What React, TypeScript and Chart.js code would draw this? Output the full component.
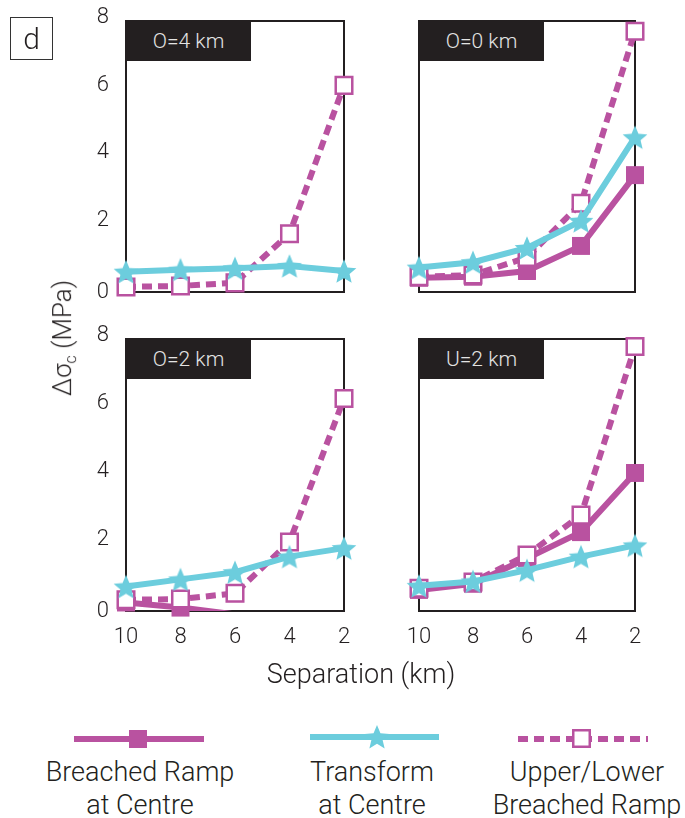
import React, { useEffect, useRef } from "react";
import { Chart, registerables } from "chart.js";

Chart.register(...registerables);

// ---------- data ----------
const separations = ["10", "8", "6", "4", "2"];
const yTickValues = [0, 2, 4, 6, 8];
const panelTitles = ["O=4 km", "O=0 km", "O=2 km", "U=2 km"];

const transformO4 = [0.6, 0.66, 0.7, 0.77, 0.62];
const upperO4 = [0.15, 0.18, 0.27, 1.72, 6.1];
const breachedO4: (number | null)[] = [null, null, null, null, null];

const transformO0 = [0.72, 0.88, 1.3, 2.1, 4.57];
const upperO0 = [0.45, 0.5, 1.02, 2.62, 7.7];
const breachedO0 = [0.42, 0.45, 0.62, 1.36, 3.45];

const transformO2 = [0.72, 0.93, 1.14, 1.6, 1.85];
const upperO2 = [0.33, 0.35, 0.52, 2.03, 6.25];
const breachedO2: (number | null)[] = [0.25, 0.1, -0.1, null, null];

const transformU2 = [0.74, 0.87, 1.2, 1.6, 1.93];
const upperU2 = [0.67, 0.85, 1.65, 2.82, 7.78];
const breachedU2 = [0.62, 0.8, 1.55, 2.32, 4.06];

// ---------- styles ----------
const MAG = "rgb(185, 82, 160)";
const CYAN = "rgb(108, 205, 221)";
const INK = "#231f20";
const FONT = "Roboto, 'Liberation Sans', sans-serif";

function makeStar(color: string, R: number) {
  const c = document.createElement("canvas");
  const s = Math.ceil(R * 2 + 2);
  c.width = s;
  c.height = s;
  const ctx = c.getContext("2d")!;
  const cx = s / 2;
  const cy = s / 2 + R * 0.1;
  const r = R * 0.45;
  ctx.beginPath();
  for (let i = 0; i < 10; i++) {
    const ang = -Math.PI / 2 + (i * Math.PI) / 5;
    const rad = i % 2 === 0 ? R : r;
    const x = cx + rad * Math.cos(ang);
    const y = cy + rad * Math.sin(ang);
    if (i === 0) ctx.moveTo(x, y);
    else ctx.lineTo(x, y);
  }
  ctx.closePath();
  ctx.fillStyle = color;
  ctx.fill();
  return c;
}

const framePlugin = {
  id: "frame",
  beforeDatasetsDraw(chart: any) {
    const { ctx, chartArea } = chart;
    const { left, top, right, bottom } = chartArea;
    ctx.save();
    ctx.strokeStyle = INK;
    ctx.lineWidth = 2;
    ctx.strokeRect(left, top, right - left, bottom - top);
    ctx.restore();
  },
};

type PanelDef = {
  title: string;
  transform: (number | null)[];
  upper: (number | null)[];
  breached: (number | null)[];
  left: boolean;
  bottom: boolean;
  canvas: { x: number; y: number; w: number; h: number };
  area: { l: number; t: number; r: number; b: number };
};

const panels: PanelDef[] = [
  {
    title: panelTitles[0], transform: transformO4, upper: upperO4, breached: breachedO4,
    left: true, bottom: false,
    canvas: { x: 30, y: -20, w: 335, h: 360 }, area: { l: 126, t: 21, r: 344, b: 292 },
  },
  {
    title: panelTitles[1], transform: transformO0, upper: upperO0, breached: breachedO0,
    left: false, bottom: false,
    canvas: { x: 375, y: -20, w: 305, h: 360 }, area: { l: 419, t: 21, r: 635, b: 292 },
  },
  {
    title: panelTitles[2], transform: transformO2, upper: upperO2, breached: breachedO2,
    left: true, bottom: true,
    canvas: { x: 30, y: 296, w: 335, h: 364 }, area: { l: 126, t: 339, r: 344, b: 611 },
  },
  {
    title: panelTitles[3], transform: transformU2, upper: upperU2, breached: breachedU2,
    left: false, bottom: true,
    canvas: { x: 375, y: 296, w: 305, h: 364 }, area: { l: 419, t: 339, r: 635, b: 611 },
  },
];

function buildConfig(p: PanelDef, star: HTMLCanvasElement): any {
  const c = p.canvas;
  const a = p.area;
  const yAxisW = p.left ? a.l - c.x : 0;
  const xAxisH = p.bottom ? c.y + c.h - a.b : 0;
  const tickFont = { family: FONT, size: 22, weight: "300" as any };

  const datasets: any[] = [
    {
      label: "Transform at Centre",
      data: p.transform,
      borderColor: CYAN,
      borderWidth: 6,
      pointStyle: star,
      pointRadius: 12,
      pointBorderWidth: 0,
      tension: 0,
      clip: false,
    },
    {
      label: "Upper/Lower Breached Ramp",
      data: p.upper,
      borderColor: MAG,
      borderWidth: 6,
      borderDash: [10, 6],
      pointStyle: "rect",
      pointRadius: 11.7,
      pointBorderWidth: 2.5,
      pointBorderColor: MAG,
      pointBackgroundColor: "#ffffff",
      tension: 0,
      clip: false,
    },
    {
      label: "Breached Ramp at Centre (marks)",
      data: p.breached.map((v) => (v === null || v < 0 ? null : v)),
      showLine: false,
      pointStyle: "rect",
      pointRadius: 12.7,
      pointBorderWidth: 0,
      pointBackgroundColor: MAG,
      clip: false,
    },
    {
      label: "Breached Ramp at Centre",
      data: p.breached,
      borderColor: MAG,
      borderWidth: 6,
      pointRadius: 0,
      tension: 0,
      clip: { left: 30, top: 30, right: 30, bottom: 0 },
    },
  ];

  return {
    type: "line",
    data: { labels: separations, datasets },
    plugins: [framePlugin],
    options: {
      animation: false,
      responsive: false,
      maintainAspectRatio: false,
      devicePixelRatio: 1,
      events: [],
      layout: {
        autoPadding: false,
        padding: {
          left: p.left ? 0 : a.l - c.x,
          top: a.t - c.y,
          right: c.x + c.w - a.r,
          bottom: p.bottom ? 0 : c.y + c.h - a.b,
        },
      },
      plugins: {
        legend: { display: false },
        tooltip: { enabled: false },
        title: { display: false },
      },
      scales: {
        x: {
          type: "category",
          display: p.bottom,
          offset: false,
          grid: { display: false, drawTicks: false },
          border: { display: false },
          ticks: {
            font: tickFont,
            color: INK,
            padding: 13,
            maxRotation: 0,
            autoSkip: false,
          },
          afterFit: (s: any) => {
            s.height = xAxisH;
          },
        },
        y: {
          type: "linear",
          display: p.left,
          min: yTickValues[0],
          max: yTickValues[yTickValues.length - 1],
          grid: { display: false, drawTicks: false },
          border: { display: false },
          afterBuildTicks: (s: any) => {
            s.ticks = yTickValues.map((v) => ({ value: v }));
          },
          ticks: {
            // a trailing empty line lifts the upper labels slightly, as in the reference
            callback: (v: any) => (Number(v) === 0 ? String(v) : [String(v), ""]),
            font: { ...tickFont, lineHeight: 0.33 },
            color: INK,
            padding: 17,
          },
          afterFit: (s: any) => {
            s.width = yAxisW;
          },
        },
      },
    },
  };
}

function Panel({ p, star }: { p: PanelDef; star: HTMLCanvasElement | null }) {
  const ref = useRef<HTMLCanvasElement>(null);
  useEffect(() => {
    if (!ref.current || !star) return;
    const chart = new Chart(ref.current, buildConfig(p, star));
    return () => chart.destroy();
  }, [p, star]);
  return (
    <>
      <canvas
        ref={ref}
        width={p.canvas.w}
        height={p.canvas.h}
        style={{ position: "absolute", left: p.canvas.x, top: p.canvas.y, width: p.canvas.w, height: p.canvas.h }}
      />
      <div
        style={{
          position: "absolute",
          left: p.area.l,
          top: p.area.t,
          width: 125,
          height: 40,
          background: INK,
          color: "#e4e4e4",
          fontFamily: FONT,
          fontWeight: 300,
          fontSize: 21,
          display: "flex",
          alignItems: "center",
          justifyContent: "center",
        }}
      >
        {p.title}
      </div>
    </>
  );
}

function starPath(cx: number, cy: number, R: number) {
  const r = R * 0.45;
  const pts: string[] = [];
  for (let i = 0; i < 10; i++) {
    const ang = -Math.PI / 2 + (i * Math.PI) / 5;
    const rad = i % 2 === 0 ? R : r;
    pts.push(`${(cx + rad * Math.cos(ang)).toFixed(2)},${(cy + rad * Math.sin(ang)).toFixed(2)}`);
  }
  return pts.join(" ");
}

const textBase: React.CSSProperties = {
  position: "absolute",
  fontFamily: FONT,
  fontWeight: 300,
  color: INK,
  whiteSpace: "nowrap",
};

export default function App() {
  const [star, setStar] = React.useState<HTMLCanvasElement | null>(null);
  useEffect(() => {
    setStar(makeStar(CYAN, 13));
  }, []);

  return (
    <div style={{ position: "absolute", left: 0, top: 0, width: 685, height: 818, background: "#fff", overflow: "hidden" }}>
      {panels.map((p, i) => (
        <Panel key={i} p={p} star={star} />
      ))}

      {/* panel letter */}
      <div
        style={{
          ...textBase,
          left: 10,
          top: 17,
          width: 41,
          height: 41,
          border: "1px solid #333",
          fontSize: 30,
          display: "flex",
          alignItems: "center",
          justifyContent: "center",
          lineHeight: 1,
        }}
      >
        d
      </div>

      {/* y-axis title */}
      <div
        style={{
          ...textBase,
          left: 64,
          top: 338,
          fontSize: 26,
          transform: "translate(-50%, -50%) rotate(-90deg)",
          lineHeight: 1,
        }}
      >
        Δσ<sub style={{ fontSize: 16, verticalAlign: "-0.3em" }}>c</sub> (MPa)
      </div>

      {/* x-axis title */}
      <div
        style={{
          ...textBase,
          left: 361,
          top: 674,
          fontSize: 27,
          transform: "translate(-50%, -50%)",
          lineHeight: 1,
        }}
      >
        Separation (km)
      </div>

      {/* legend samples */}
      <svg width={685} height={60} style={{ position: "absolute", left: 0, top: 710 }}>
        <line x1={74} y1={29} x2={204} y2={29} stroke={MAG} strokeWidth={6} />
        <rect x={129} y={20} width={18} height={18} fill={MAG} />
        <line x1={310} y1={27} x2={439} y2={27} stroke={CYAN} strokeWidth={6} />
        <polygon points={starPath(377, 28, 13)} fill={CYAN} />
        <line x1={518} y1={29} x2={648} y2={29} stroke={MAG} strokeWidth={6} strokeDasharray="10 6" />
        <rect x={573.25} y={20.25} width={16.5} height={16.5} fill="#fff" stroke={MAG} strokeWidth={2.5} />
      </svg>

      {/* legend labels */}
      {[
        { x: 140, lines: ["Breached Ramp", "at Centre"] },
        { x: 372, lines: ["Transform", "at Centre"] },
        { x: 587, lines: ["Upper/Lower", "Breached Ramp"] },
      ].map((l, i) => (
        <div
          key={i}
          style={{
            ...textBase,
            left: l.x,
            top: 756,
            fontSize: 27,
            lineHeight: "33px",
            textAlign: "center",
            transform: "translateX(-50%)",
          }}
        >
          {l.lines[0]}
          <br />
          {l.lines[1]}
        </div>
      ))}
    </div>
  );
}
